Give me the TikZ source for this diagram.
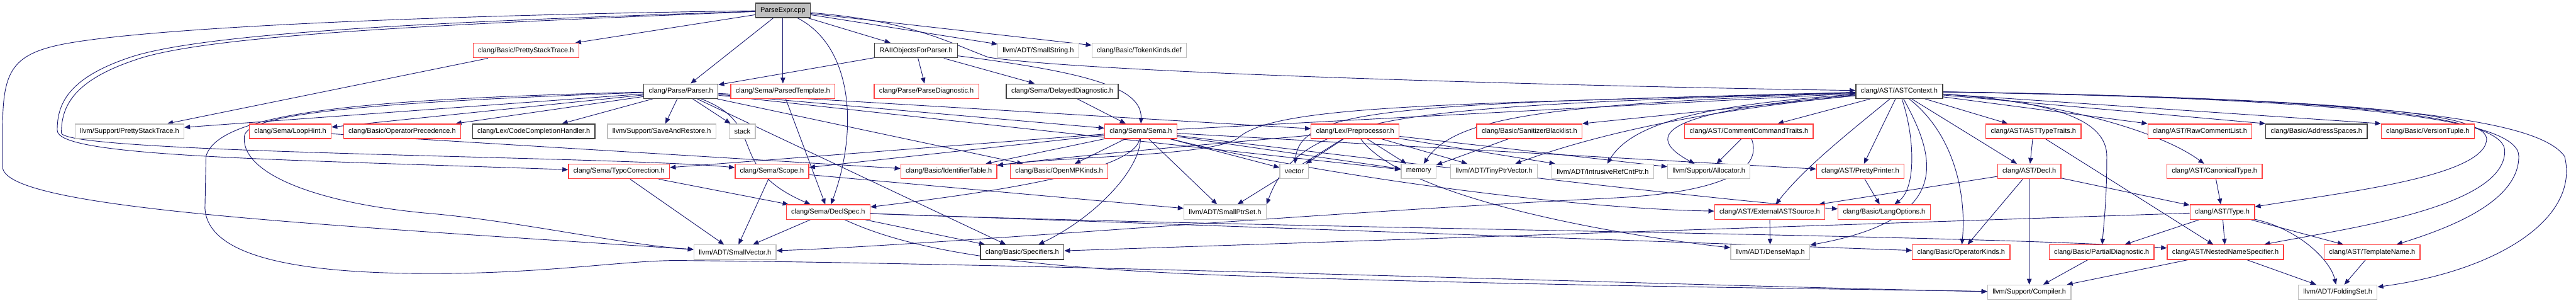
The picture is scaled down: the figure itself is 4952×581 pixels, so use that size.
\documentclass[tikz,border=0pt]{standalone}
\usepackage{fontspec}
\setmainfont{Liberation Sans}
\usetikzlibrary{arrows.meta,backgrounds}
\definecolor{edgeblue}{HTML}{191970}
\definecolor{boxred}{HTML}{FF4040}
\definecolor{boxgrey}{HTML}{BFBFBF}
\definecolor{boxblack}{HTML}{404040}
\begin{document}
\begin{tikzpicture}[x=1pt,y=-1pt,
    file/.style={draw,line width=1.6pt,fill=white,minimum height=28pt,inner xsep=9.5pt,
      font=\fontsize{13.3}{16}\selectfont},
    redfile/.style={file,draw=boxred},
    greyfile/.style={file,draw=boxgrey},
    docfile/.style={file,draw=boxblack},
    mainfile/.style={file,draw=boxblack,fill=boxgrey},
    inc/.style={draw=edgeblue,line width=1.1pt,-{Triangle[length=11pt,width=9pt]}}]
  \useasboundingbox (0,0) rectangle (4952,581);

  \node[mainfile] (pe) at (1505,20) {ParseExpr.cpp};

  \node[redfile]  (pst)  at (1011,97) {clang/Basic/PrettyStackTrace.h};
  \node[docfile]  (raii) at (1761,97) {RAIIObjectsForParser.h};
  \node[greyfile] (sstr) at (1996,97) {llvm/ADT/SmallString.h};
  \node[greyfile] (tok)  at (2190,97) {clang/Basic/TokenKinds.def};

  \node[docfile] (parser) at (1309,175) {clang/Parse/Parser.h};
  \node[redfile] (ptpl)   at (1505,175) {clang/Sema/ParsedTemplate.h};
  \node[redfile] (pdiag)  at (1781,175) {clang/Parse/ParseDiagnostic.h};
  \node[docfile] (ddiag)  at (2042,175) {clang/Sema/DelayedDiagnostic.h};
  \node[docfile] (astctx) at (3651,175) {clang/AST/ASTContext.h};

  \node[greyfile] (lpst)   at (249,252)  {llvm/Support/PrettyStackTrace.h};
  \node[redfile]  (loop)   at (558,252)  {clang/Sema/LoopHint.h};
  \node[redfile]  (opprec) at (773,252)  {clang/Basic/OperatorPrecedence.h};
  \node[docfile]  (cch)    at (1026,252) {clang/Lex/CodeCompletionHandler.h};
  \node[greyfile] (sar)    at (1272,252) {llvm/Support/SaveAndRestore.h};
  \node[greyfile] (stk)    at (1427,252) {stack};
  \node[redfile]  (sema)   at (2193,252) {clang/Sema/Sema.h};
  \node[redfile]  (pp)     at (2605,252) {clang/Lex/Preprocessor.h};
  \node[redfile]  (sbl)    at (2940,252) {clang/Basic/SanitizerBlacklist.h};
  \node[redfile]  (cct)    at (3362,252) {clang/AST/CommentCommandTraits.h};
  \node[redfile]  (astt)   at (3909,252) {clang/AST/ASTTypeTraits.h};
  \node[redfile]  (rcl)    at (4229,252) {clang/AST/RawCommentList.h};
  \node[docfile]  (addr)   at (4453,252) {clang/Basic/AddressSpaces.h};
  \node[redfile]  (vt)     at (4667,252) {clang/Basic/VersionTuple.h};

  \node[redfile]  (typo)   at (1190,329) {clang/Sema/TypoCorrection.h};
  \node[redfile]  (scope)  at (1484,329) {clang/Sema/Scope.h};
  \node[redfile]  (idt)    at (1824,329) {clang/Basic/IdentifierTable.h};
  \node[redfile]  (omp)    at (2036,329) {clang/Basic/OpenMPKinds.h};
  \node[greyfile] (vec)    at (2488,329) {vector};
  \node[greyfile] (mem)    at (2727,329) {memory};
  \node[greyfile] (tpv)    at (2872,329) {llvm/ADT/TinyPtrVector.h};
  \node[greyfile] (irc)    at (3081,329) {llvm/ADT/IntrusiveRefCntPtr.h};
  \node[greyfile] (alloc)  at (3285,329) {llvm/Support/Allocator.h};
  \node[redfile]  (pprint) at (3576,329) {clang/AST/PrettyPrinter.h};
  \node[redfile]  (decl)   at (3901,329) {clang/AST/Decl.h};
  \node[redfile]  (canon)  at (4257,329) {clang/AST/CanonicalType.h};

  \node[redfile]  (dspec) at (1592,407) {clang/Sema/DeclSpec.h};
  \node[greyfile] (sps)   at (2355,407) {llvm/ADT/SmallPtrSet.h};
  \node[redfile]  (ext)   at (3402,407) {clang/AST/ExternalASTSource.h};
  \node[redfile]  (lang)  at (3622,407) {clang/Basic/LangOptions.h};
  \node[redfile]  (type)  at (4272,407) {clang/AST/Type.h};

  \node[greyfile] (svec)  at (1413,484) {llvm/ADT/SmallVector.h};
  \node[docfile]  (spec)  at (1965,484) {clang/Basic/Specifiers.h};
  \node[greyfile] (dmap)  at (3403,484) {llvm/ADT/DenseMap.h};
  \node[redfile]  (opk)   at (3770,484) {clang/Basic/OperatorKinds.h};
  \node[redfile]  (pdg)   at (4040,484) {clang/Basic/PartialDiagnostic.h};
  \node[redfile]  (nns)   at (4278,484) {clang/AST/NestedNameSpecifier.h};
  \node[redfile]  (tname) at (4560,484) {clang/AST/TemplateName.h};

  \node[greyfile] (comp) at (3901,561) {llvm/Support/Compiler.h};
  \node[greyfile] (fset) at (4494,561) {llvm/ADT/FoldingSet.h};

  \begin{scope}[on background layer]
    % ParseExpr.cpp
    \draw[inc] (pe) -- (pst);
    \draw[inc] (pe) -- (raii);
    \draw[inc] (pe) -- (sstr);
    \draw[inc] (pe) -- (tok);
    \draw[inc] (pe) -- (parser);
    \draw[inc] (pe) -- (ptpl);
    \draw[inc] (pe) .. controls (1750,40) and (1820,80) .. (1900,110) .. controls (2100,140) and (3000,165) .. (astctx);
    \draw[inc] (pe) .. controls (1640,90) and (1650,250) .. (dspec);
    \draw[inc] (pe) .. controls (900,28) and (300,50) .. (120,85) .. controls (20,105) and (5,140) .. (5,250)
      -- (5,320) .. controls (5,400) and (600,430) .. (svec);
    \draw[inc] (pe) .. controls (900,40) and (400,60) .. (250,110) .. controls (130,150) and (110,200) .. (110,250)
      .. controls (110,300) and (500,305) .. (typo);
    \draw[inc] (pe) .. controls (900,45) and (400,65) .. (260,115) .. controls (140,155) and (118,205) .. (118,255)
      .. controls (118,295) and (1200,300) .. (scope);
    % headers of the parser
    \draw[inc] (pst) -- (lpst);
    \draw[inc] (raii) -- (parser);
    \draw[inc] (raii) -- (pdiag);
    \draw[inc] (raii) -- (ddiag);
    \draw[inc] (raii) .. controls (2100,140) and (2195,170) .. (sema);
    \draw[inc] (ddiag) -- (sema);
    \draw[inc] (ptpl) -- (dspec);
    \draw[inc] (parser) -- (lpst);
    \draw[inc] (parser) -- (loop);
    \draw[inc] (parser) -- (opprec);
    \draw[inc] (parser) -- (cch);
    \draw[inc] (parser) -- (sar);
    \draw[inc] (parser) -- (stk);
    \draw[inc] (parser) -- (sema);
    \draw[inc] (parser) -- (pp);
    \draw[inc] (parser) -- (omp);
    \draw[inc] (parser) -- (spec);
    \draw[inc] (parser) -- (mem);
    \draw[inc] (parser) .. controls (1480,240) and (1390,320) .. (dspec);
    \draw[inc] (parser) .. controls (750,195) and (480,215) .. (470,260) .. controls (460,330) and (600,390) .. (830,410)
      .. controls (1000,425) and (1200,470) .. (svec);
    \draw[inc] (parser) .. controls (700,190) and (420,215) .. (396,300) -- (394,400)
      .. controls (400,500) and (600,525) .. (830,525) .. controls (1050,525) and (1200,500) .. (1300,500)
      .. controls (2000,505) and (3300,550) .. (comp);
    \draw[inc] (loop) -- (idt);
    % Sema.h
    \draw[inc] (sema) -- (astctx);
    \draw[inc] (sema) -- (typo);
    \draw[inc] (sema) -- (scope);
    \draw[inc] (sema) -- (idt);
    \draw[inc] (sema) -- (omp);
    \draw[inc] (sema) -- (sps);
    \draw[inc] (sema) -- (vec);
    \draw[inc] (sema) -- (mem);
    \draw[inc] (sema) -- (pprint);
    \draw[inc] (sema) .. controls (2180,330) and (1900,370) .. (dspec);
    \draw[inc] (sema) .. controls (2190,330) and (2100,420) .. (spec);
    \draw[inc] (sema) .. controls (2500,330) and (3000,400) .. (ext);
    \draw[inc] (sema) .. controls (2600,300) and (3300,385) .. (lang);
    % Preprocessor.h
    \draw[inc] (pp) .. controls (2350,275) and (2100,295) .. (idt);
    \draw[inc] (pp) -- (sps);
    \draw[inc] (pp) -- (vec);
    \draw[inc] (pp) -- (mem);
    \draw[inc] (pp) -- (tpv);
    \draw[inc] (pp) -- (irc);
    \draw[inc] (pp) -- (alloc);
    \draw[inc] (pp) .. controls (2700,380) and (3100,450) .. (dmap);
    \draw[inc] (sbl) -- (mem);
    % ASTContext.h
    \draw[inc] (astctx) -- (sbl.north east);
    \draw[inc] (astctx) -- (cct);
    \draw[inc] (astctx) -- (astt);
    \draw[inc] (astctx) -- (rcl.north west);
    \draw[inc] (astctx) -- (addr.north west);
    \draw[inc] (astctx) -- (vt.north west);
    \draw[inc] (astctx) -- (pprint);
    \draw[inc] (astctx) -- (decl);
    \draw[inc] (astctx) .. controls (3300,200) and (3140,230) .. (irc);
    \draw[inc] (astctx) .. controls (3300,205) and (3120,240) .. (alloc);
    \draw[inc] (astctx) .. controls (3300,210) and (3090,250) .. (tpv);
    \draw[inc] (astctx) .. controls (3000,200) and (2800,220) .. (mem);
    \draw[inc] (astctx) .. controls (2700,200) and (2500,205) .. (vec);
    \draw[inc] (astctx) .. controls (2700,205) and (2500,215) .. (sps.north east);
    \draw[inc] (astctx) .. controls (2800,200) and (2450,200) .. (2380,265) .. controls (2330,300) and (2050,300) .. (idt);
    \draw[inc] (astctx) .. controls (3560,250) and (3470,320) .. (ext);
    \draw[inc] (astctx) .. controls (3680,260) and (3685,360) .. (lang);
    \draw[inc] (astctx) .. controls (3720,300) and (3760,420) .. (dmap);
    \draw[inc] (astctx) .. controls (3760,260) and (3780,380) .. (opk);
    \draw[inc] (astctx) .. controls (3950,195) and (4150,250) .. (canon);
    \draw[inc] (astctx) .. controls (3950,195) and (4050,230) .. (4050,300) .. controls (4050,380) and (4045,420) .. (pdg);
    \draw[inc] (astctx) .. controls (4500,190) and (4790,215) .. (4780,270) .. controls (4770,340) and (4500,370) .. (type);
    \draw[inc] (astctx) .. controls (4500,188) and (4815,220) .. (4815,290) .. controls (4815,400) and (4500,440) .. (nns);
    \draw[inc] (astctx) .. controls (4550,190) and (4842,230) .. (4842,300) .. controls (4842,390) and (4700,440) .. (tname);
    \draw[inc] (astctx) .. controls (4600,190) and (4880,230) .. (4930,300) .. controls (4960,420) and (4800,520) .. (fset);
    % AST and Basic headers
    \draw[inc] (cct) -- (alloc);
    \draw[inc] (cct) .. controls (3390,330) and (3300,370) .. (3100,380) .. controls (2500,410) and (1800,470) .. (svec);
    \draw[inc] (astt) -- (decl);
    \draw[inc] (astt) -- (nns);
    \draw[inc] (typo) -- (dspec);
    \draw[inc] (typo) -- (svec);
    \draw[inc] (scope) -- (svec);
    \draw[inc] (scope) -- (sps);
    \draw[inc] (pprint) -- (lang);
    \draw[inc] (decl) -- (ext);
    \draw[inc] (decl) -- (type);
    \draw[inc] (decl) -- (opk);
    \draw[inc] (decl) -- (comp);
    \draw[inc] (canon) -- (type);
    \draw[inc] (ext) -- (dmap);
    \draw[inc] (dspec) -- (spec);
    \draw[inc] (dspec) -- (svec);
    \draw[inc] (dspec) -- (opk);
    \draw[inc] (dspec) .. controls (2500,440) and (3800,450) .. (nns);
    \draw[inc] (dspec) .. controls (1750,480) and (1950,515) .. (2400,530) .. controls (3000,550) and (3600,555) .. (comp);
    \draw[inc] (type) -- (spec);
    \draw[inc] (type) -- (pdg);
    \draw[inc] (type) -- (nns);
    \draw[inc] (type) -- (tname);
    \draw[inc] (type) .. controls (4420,440) and (4480,500) .. (fset);
    \draw[inc] (pdg) -- (comp);
    \draw[inc] (nns) -- (comp);
    \draw[inc] (nns) -- (fset);
    \draw[inc] (tname) -- (fset);
  \end{scope}
\end{tikzpicture}
\end{document}
